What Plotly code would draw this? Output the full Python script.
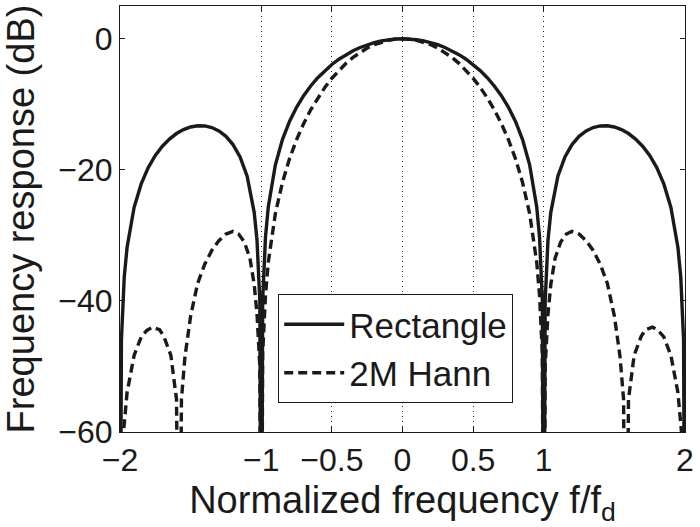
import plotly.graph_objects as go

# Normalized frequency (f/fd) and response in dB
rect_x = [-2.0, -1.99, -1.97, -1.95, -1.9, -1.85, -1.8, -1.75, -1.7, -1.65, -1.6, -1.55, -1.5, -1.45, -1.4,
          -1.35, -1.3, -1.25, -1.2, -1.15, -1.1, -1.05, -1.03, -1.01, -1.0, -0.99, -0.97, -0.95, -0.9, -0.85,
          -0.8, -0.75, -0.7, -0.65, -0.6, -0.55, -0.5, -0.45, -0.4, -0.35, -0.3, -0.25, -0.2, -0.15, -0.1, -0.05,
          0.0,
          0.05, 0.1, 0.15, 0.2, 0.25, 0.3, 0.35, 0.4, 0.45, 0.5, 0.55, 0.6, 0.65, 0.7, 0.75, 0.8, 0.85, 0.9,
          0.95, 0.97, 0.99, 1.0, 1.01, 1.03, 1.05, 1.1, 1.15, 1.2, 1.25, 1.3, 1.35, 1.4, 1.45, 1.5, 1.55, 1.6,
          1.65, 1.7, 1.75, 1.8, 1.85, 1.9, 1.95, 1.97, 1.99, 2.0]
rect_db = [-100, -45.98, -36.36, -31.86, -25.72, -22.15, -19.66, -17.81, -16.39, -15.30, -14.46, -13.86, -13.46,
           -13.28, -13.30, -13.55, -14.06, -14.89, -16.14, -18.02, -20.97, -26.48, -30.73, -40.09, -100, -39.91,
           -30.21, -25.61, -19.23, -15.39, -12.62, -10.45, -8.69, -7.20, -5.94, -4.86, -3.92, -3.12, -2.42, -1.83,
           -1.33, -0.91, -0.58, -0.32, -0.14, -0.04,
           0.0,
           -0.04, -0.14, -0.32, -0.58, -0.91, -1.33, -1.83, -2.42, -3.12, -3.92, -4.86, -5.94, -7.20, -8.69,
           -10.45, -12.62, -15.39, -19.23, -25.61, -30.21, -39.91, -100, -40.09, -30.73, -26.48, -20.97, -18.02,
           -16.14, -14.89, -14.06, -13.55, -13.30, -13.28, -13.46, -13.86, -14.46, -15.30, -16.39, -17.81, -19.66,
           -22.15, -25.72, -31.86, -36.36, -45.98, -100]

hann_x = [-2.0, -1.975, -1.95, -1.9, -1.85, -1.81, -1.77, -1.72, -1.69, -1.64, -1.6, -1.58, -1.565, -1.54, -1.5,
          -1.45, -1.4, -1.35, -1.3, -1.25, -1.2, -1.16, -1.12, -1.08, -1.05, -1.03, -1.01, -1.0, -0.99, -0.97,
          -0.95, -0.9, -0.85, -0.8, -0.75, -0.7, -0.65, -0.6, -0.55, -0.5, -0.45, -0.4, -0.35, -0.3, -0.25, -0.2,
          -0.15, -0.1, -0.05,
          0.0,
          0.05, 0.1, 0.15, 0.2, 0.25, 0.3, 0.35, 0.4, 0.45, 0.5, 0.55, 0.6, 0.65, 0.7, 0.75, 0.8, 0.85, 0.9,
          0.95, 0.97, 0.99, 1.0, 1.01, 1.03, 1.05, 1.08, 1.12, 1.16, 1.2, 1.25, 1.3, 1.35, 1.4, 1.45, 1.5, 1.54,
          1.565, 1.58, 1.6, 1.64, 1.69, 1.72, 1.77, 1.81, 1.85, 1.9, 1.95, 1.975, 2.0]
hann_db = [-100, -60, -54, -48.3, -45.5, -44.5, -44.0, -44.4, -45.4, -48.3, -55, -100, -55, -48.5, -42.3, -37.3,
           -34.4, -32.3, -30.8, -29.8, -29.4, -29.8, -31.0, -33.5, -37.5, -42, -50, -100, -48, -39.1, -34.05,
           -26.67, -21.92, -18.32, -15.40, -12.95, -10.84, -9.01, -7.42, -6.02, -4.80, -3.75, -2.84, -2.07, -1.42,
           -0.91, -0.51, -0.23, -0.06,
           0.0,
           -0.06, -0.23, -0.51, -0.91, -1.42, -2.07, -2.84, -3.75, -4.80, -6.02, -7.42, -9.01, -10.84, -12.95,
           -15.40, -18.32, -21.92, -26.67, -34.05, -39.1, -48, -100, -50, -42, -37.5, -33.5, -31.0, -29.8, -29.4,
           -29.8, -30.8, -32.3, -34.4, -37.3, -42.3, -48.5, -55, -100, -55, -48.3, -45.4, -44.4, -44.0, -44.5,
           -45.5, -48.3, -54, -60, -100]

x_tickvals = [-2, -1, -0.5, 0, 0.5, 1, 2]
x_ticktext = ["\u22122", "\u22121", "\u22120.5", "0", "0.5", "1", "2"]
y_tickvals = [-60, -40, -20, 0]
y_ticktext = ["\u221260", "\u221240", "\u221220", "0"]

FONT = "Liberation Sans, Arial, Helvetica, sans-serif"
INK = "#1a1a1a"

fig = go.Figure()
fig.add_trace(go.Scatter(x=rect_x, y=rect_db, mode="lines", name="Rectangle",
                         line=dict(color=INK, width=3.4)))
fig.add_trace(go.Scatter(x=hann_x, y=hann_db, mode="lines", name="2M Hann",
                         line=dict(color=INK, width=3.4, dash="9px,5px")))

fig.update_layout(
    width=700, height=527,
    margin=dict(l=120, r=15, t=6, b=95, autoexpand=False),
    paper_bgcolor="white", plot_bgcolor="white",
    font=dict(family=FONT, size=32, color=INK),
    showlegend=True,
    legend=dict(x=0.28, y=0.324, xanchor="left", yanchor="top", itemwidth=60,
                bgcolor="white", bordercolor=INK, borderwidth=1,
                font=dict(family=FONT, size=35, color=INK)),
    xaxis=dict(range=[-2, 2], tickvals=x_tickvals, ticktext=x_ticktext,
               showgrid=True, gridcolor="#222222", gridwidth=1, griddash="1px,4px",
               zeroline=False, showline=True, linecolor=INK, linewidth=1, mirror="ticks",
               ticks="inside", ticklen=5, tickcolor=INK,
               title=dict(text="Normalized frequency f/f<sub>d</sub>", standoff=12)),
    yaxis=dict(range=[-60, 5], tickvals=y_tickvals, ticktext=y_ticktext,
               showgrid=False, zeroline=False, showline=True, linecolor=INK, linewidth=1,
               mirror="ticks", ticks="inside", ticklen=5, tickcolor=INK,
               title=dict(text="Frequency response (dB)", standoff=14)),
)

fig.write_html("out.html", config={"displayModeBar": False},
               post_script="document.body.style.margin='0';")
